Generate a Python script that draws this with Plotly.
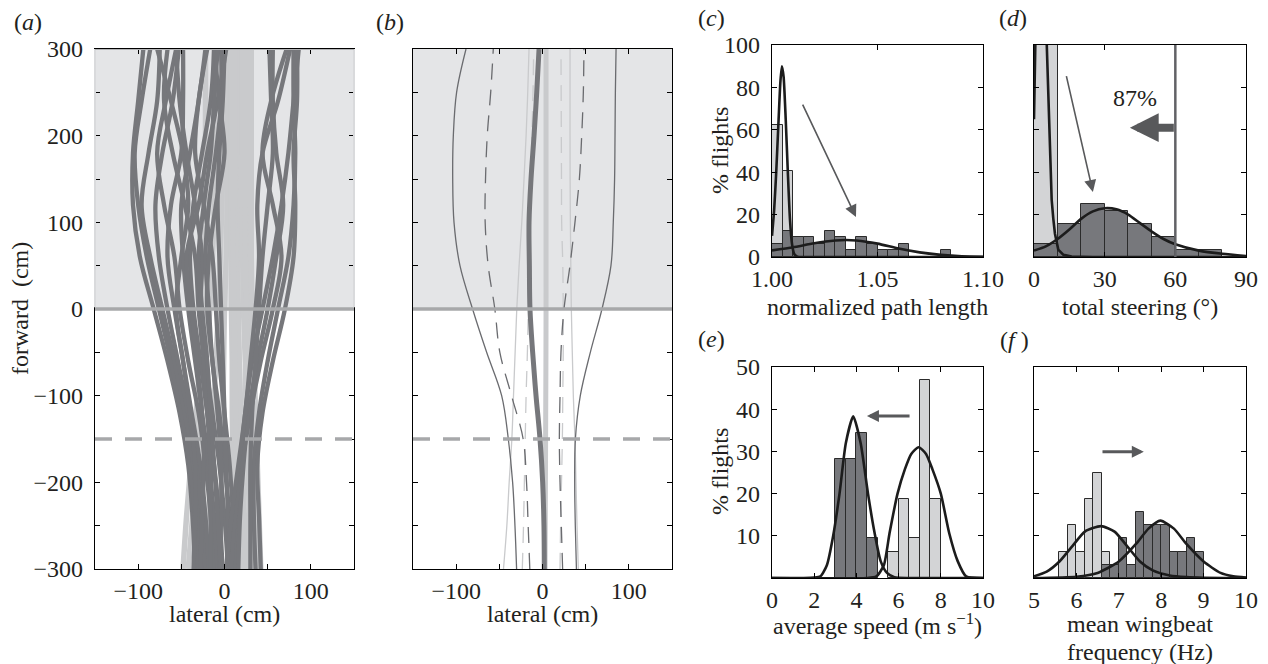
import plotly.graph_objects as go

W, H = 1268, 664
FONT = "Liberation Serif, Times New Roman, serif"
FS = 24
TXT = "#231f20"

# ---------------- data ----------------
# (a) individual trajectories: lateral position (cm) at these forward positions (cm)
a_forward = [-300, -240, -180, -120, -60, 0, 60, 120, 180, 240, 300]
a_dark = [
    [-34, -37, -42, -52, -66, -82, -98, -106, -106, -100, -94],
    [-30, -34, -40, -50, -62, -76, -90, -100, -104, -96, -86],
    [-26, -30, -36, -46, -58, -72, -86, -96, -88, -78, -75],
    [-22, -26, -32, -42, -54, -66, -76, -80, -72, -60, -53],
    [-18, -22, -28, -38, -48, -58, -66, -62, -50, -48, -48],
    [-12, -16, -22, -30, -42, -52, -58, -70, -78, -68, -56],
    [-36, -34, -34, -40, -48, -56, -50, -42, -48, -62, -78],
    [-8, -12, -18, -26, -34, -42, -48, -50, -40, -30, -22],
    [-2, -6, -12, -20, -28, -36, -40, -36, -26, -16, -12],
    [4, 0, -6, -14, -22, -28, -26, -34, -44, -52, -56],
    [10, 6, 0, -6, -14, -18, -22, -18, -10, -4, -4],
    [-28, -26, -24, -26, -32, -38, -44, -30, -20, -8, 2],
    [14, 10, 6, 0, -6, -10, -14, -24, -34, -30, -20],
    [6, 4, 2, 0, -2, -4, -6, -8, -6, -2, 0],
    [-16, -16, -16, -20, -24, -30, -34, -46, -60, -70, -66],
    [12, 14, 18, 24, 32, 44, 56, 66, 74, 80, 86],
    [16, 18, 22, 28, 38, 50, 60, 68, 60, 56, 56],
    [36, 34, 34, 40, 50, 62, 74, 80, 82, 80, 80],
    [42, 40, 38, 44, 56, 70, 80, 82, 80, 84, 84],
    [8, 12, 20, 30, 42, 56, 66, 56, 44, 54, 72],
    [2, 8, 16, 24, 30, 36, 40, 38, 44, 62, 76],
    [30, 30, 30, 32, 36, 40, 44, 50, 56, 54, 52],
    [-6, -4, -4, -8, -14, -20, -18, -10, 0, -6, -12],
    [-4, -8, -12, -16, -20, -26, -30, -24, -16, -12, -8],
]
a_light = [
    [-48, -44, -39, -33, -28, -24, -22, -22, -22, -22, -22],
    [-42, -37, -32, -27, -22, -17, -14, -12, -12, -12, -12],
    [-20, -18, -16, -13, -10, -7, -5, -3, -2, -1, 0],
    [-5, -4, -3, -2, -1, 0, 2, 3, 4, 5, 5],
    [10, 10, 10, 9, 9, 8, 8, 8, 8, 8, 8],
    [20, 19, 18, 18, 17, 16, 15, 15, 15, 15, 15],
    [30, 29, 27, 25, 24, 22, 21, 20, 20, 20, 20],
    [38, 37, 35, 33, 32, 30, 29, 28, 28, 28, 28],
    [42, 40, 38, 36, 34, 32, 31, 31, 31, 31, 31],
    [25, 23, 21, 19, 17, 15, 13, 12, 12, 12, 12],
    [34, 32, 30, 28, 26, 25, 24, 24, 24, 24, 24],
    [16, 15, 14, 13, 12, 11, 10, 10, 10, 10, 10],
]

# (b) mean paths and envelopes
b_forward = [-300, -250, -200, -150, -100, -50, 0, 50, 100, 150, 200, 250, 300]
b_dark_mean = [2.1, 1.7, 0.2, -2.9, -7.5, -11.4, -14.5, -15.2, -15.6, -13.3, -9.8, -6.7, -4]
b_light_mean = [3, 3.2, 3.4, 3.6, 3.8, 4, 4.1, 4.1, 4.1, 4.1, 4.1, 4.1, 4.1]
b_dark_sd_left = [-30, -31.9, -34.6, -39.6, -47.3, -64.7, -81, -95.6, -102.5, -104, -103.3, -99.5, -88.6]
b_dark_sd_right = [39.3, 38, 37.3, 38.1, 43.8, 55.4, 68.9, 79.3, 82, 83.5, 84, 84.4, 85.2]
b_dark_se_left = [-14.7, -16.6, -18.5, -22.4, -35.9, -49.4, -55.2, -62.9, -66.4, -66, -64, -60, -57]
b_dark_se_right = [23.3, 21.8, 20.3, 19.5, 20.3, 21.4, 24.9, 31.8, 37.6, 42.7, 45.4, 47.3, 48]
b_light_sd_left = [-45.2, -41.3, -38.6, -35.5, -33.6, -31.7, -29.8, -27.1, -24, -21.4, -19, -17.1, -15.6]
b_light_sd_right = [41.5, 40, 38.8, 37.6, 35.7, 34.5, 33.4, 32.8, 32.3, 32, 31.9, 31.9, 31.9]
b_light_se_left = [-23.4, -22, -21, -20, -19, -17.5, -16.4, -15, -14, -13, -12.2, -11, -10.2]
b_light_se_right = [20.3, 21, 22, 23, 23.5, 24, 24, 23.5, 22.2, 22, 21.8, 21.6, 21.4]

# (c) normalized path length histograms (% flights)
c_bin = 0.005
c_light_left = [1.000, 1.005]
c_light_pct = [62.5, 40.6]
c_dark_left = [1.000, 1.005, 1.010, 1.015, 1.020, 1.025, 1.030, 1.035, 1.040, 1.045,
               1.050, 1.055, 1.060, 1.080]
c_dark_pct = [6.25, 12.5, 9.4, 9.4, 6.25, 12.5, 9.4, 3.1, 9.4, 6.25, 3.1, 3.1, 6.25, 3.1]
c_light_fit_x = [1.000, 1.001, 1.002, 1.003, 1.004, 1.0047, 1.0055, 1.0065, 1.0075, 1.0085,
                 1.0095, 1.0105, 1.012, 1.015, 1.10]
c_light_fit_y = [10, 22, 40, 62, 83, 90, 85, 65, 40, 18, 6, 1.5, 0.2, 0, 0]
c_dark_fit_x = [1.00, 1.01, 1.02, 1.03, 1.035, 1.04, 1.05, 1.06, 1.07, 1.08, 1.09, 1.10]
c_dark_fit_y = [3.1, 4.6, 6.5, 7.8, 8.0, 7.8, 6.3, 4.0, 2.2, 1.0, 0.3, 0.1]

# (d) total steering histograms
d_bin = 10
d_light_left = [0]
d_light_pct = [100]
d_dark_left = [0, 10, 20, 30, 40, 50, 60, 70]
d_dark_pct = [6.25, 15.6, 25, 21.9, 15.6, 9.4, 3.1, 3.1]
d_light_fit_x = [0, 0.3, 1, 2, 3, 4, 5, 5.4, 5.9, 6.4, 7.0, 7.5, 8.2, 8.9, 10.3, 12.5, 16, 25, 90]
d_light_fit_y = [65, 110, 160, 190, 180, 150, 115, 100, 78, 58, 40, 27, 18, 11, 3.5, 1, 0.2, 0, 0]
d_dark_fit_x = [0, 5, 10, 15, 20, 25, 30, 35, 40, 45, 50, 55, 60, 70, 80, 90]
d_dark_fit_y = [3, 5, 8.5, 13, 18, 21.5, 23, 22.5, 20, 16, 12, 8.5, 6, 3, 1.5, 0.5]
d_threshold = 60
d_threshold_label = "87%"

# (e) average speed histograms
e_bin = 0.5
e_dark_left = [3.0, 3.5, 4.0, 4.5]
e_dark_pct = [28.1, 28.1, 34.4, 9.4]
e_light_left = [5.5, 6.0, 6.5, 7.0, 7.5]
e_light_pct = [6.25, 18.75, 9.4, 46.9, 18.75]
e_dark_fit_x = [0, 1.5, 2.0, 2.3, 2.6, 2.9, 3.2, 3.5, 3.85, 4.2, 4.55, 4.85, 5.15, 5.45, 5.8, 6.5, 10]
e_dark_fit_y = [0, 0, 0.1, 0.4, 3, 10, 20, 32, 38.3, 32, 20, 11, 4, 1.2, 0.2, 0, 0]
e_light_fit_x = [0, 4.5, 4.95, 5.3, 5.57, 5.95, 6.3, 6.6, 6.95, 7.3, 7.6, 8.0, 8.4, 8.8, 9.2, 10]
e_light_fit_y = [0, 0, 0.4, 3, 10.6, 20, 25.8, 29.4, 31, 29.4, 25.8, 20, 10.6, 4, 0.4, 0]

# (f) mean wingbeat frequency histograms
f_bin = 0.2
f_light_left = [5.6, 5.8, 6.0, 6.2, 6.4, 6.6]
f_light_pct = [6.25, 12.5, 6.25, 18.75, 25, 6.25]
f_dark_left = [6.6, 6.8, 7.0, 7.2, 7.4, 7.6, 7.8, 8.0, 8.2, 8.4, 8.6, 8.8]
f_dark_pct = [3.1, 3.1, 9.4, 3.1, 15.6, 12.5, 12.5, 12.5, 6.25, 6.25, 9.4, 6.25]
f_light_fit_x = [5, 5.3, 5.6, 5.9, 6.2, 6.58, 6.9, 7.2, 7.5, 7.8, 8.2, 8.6, 9, 10]
f_light_fit_y = [0.4, 1.5, 3.9, 7.5, 11, 12.3, 11, 7.5, 3.9, 1.8, 0.6, 0.2, 0.05, 0]
f_dark_fit_x = [5, 6, 6.5, 7, 7.4, 7.7, 7.98, 8.3, 8.6, 9, 9.4, 9.7, 10]
f_dark_fit_y = [0, 0.3, 1.2, 3.9, 8, 11.7, 13.6, 11.7, 8, 3.9, 1.2, 0.4, 0.1]

# tick labels
traj_xticks = [-150, -100, -50, 0, 50, 100, 150]
traj_xtext = ["", "\u2212100", "", "0", "", "100", ""]
traj_yticks = [-300, -250, -200, -150, -100, -50, 0, 50, 100, 150, 200, 250, 300]
traj_ytext = ["\u2212300", "", "\u2212200", "", "\u2212100", "", "0", "", "100", "", "200", "", "300"]

# ---------------- style ----------------
DARK = "#76777b"
LIGHT = "#c9cacc"
SHADE = "#e4e5e7"
REFLINE = "#a7a8aa"
BAR_DARK = "#77787c"
BAR_LIGHT = "#d3d4d6"
FIT = "#1c1c1c"
ARROW = "#58595b"


def px(x):
    return x / W


def py(y):
    return 1 - y / H


domains = {
    "a": ([95, 354], [49, 569]),
    "b": ([413, 672], [49, 569]),
    "c": ([772, 983], [45, 257]),
    "d": ([1034, 1246], [45, 257]),
    "e": ([772, 983], [367, 578]),
    "f": ([1034, 1246], [367, 578]),
}


def dom(p):
    (x0, x1), (y0, y1) = domains[p]
    return [px(x0), px(x1)], [py(y1), py(y0)]


def axis(**kw):
    d = dict(showline=True, linecolor="black", linewidth=1.3, mirror="ticks",
             ticks="inside", ticklen=5, tickwidth=1, tickcolor="black",
             showgrid=False, zeroline=False, automargin=False,
             tickfont=dict(family=FONT, size=FS, color=TXT), fixedrange=True)
    d.update(kw)
    return d


fig = go.Figure()

# (a) trajectories
for xs in a_light:
    fig.add_trace(go.Scatter(x=xs, y=a_forward, mode="lines", line=dict(color=LIGHT, width=5.5, shape="spline"),
                             xaxis="x", yaxis="y", showlegend=False, hoverinfo="skip"))
for xs in a_dark:
    fig.add_trace(go.Scatter(x=xs, y=a_forward, mode="lines", line=dict(color=DARK, width=4.3, shape="spline"),
                             xaxis="x", yaxis="y", showlegend=False, hoverinfo="skip"))

# (b) summary paths
b_lines = [
    (b_light_sd_left, LIGHT, 1.3, "solid"), (b_light_sd_right, LIGHT, 1.3, "solid"),
    (b_light_se_left, LIGHT, 1.3, "16px,10px"), (b_light_se_right, LIGHT, 1.3, "16px,10px"),
    (b_dark_sd_left, "#6a6b6f", 1.3, "solid"), (b_dark_sd_right, "#6a6b6f", 1.3, "solid"),
    (b_dark_se_left, "#6a6b6f", 1.3, "16px,10px"), (b_dark_se_right, "#6a6b6f", 1.3, "16px,10px"),
    (b_light_mean, LIGHT, 5, "solid"), (b_dark_mean, DARK, 5, "solid"),
]
for xs, col, wd, dash in b_lines:
    fig.add_trace(go.Scatter(x=xs, y=b_forward, mode="lines",
                             line=dict(color=col, width=wd, dash=dash, shape="spline"),
                             xaxis="x2", yaxis="y2", showlegend=False, hoverinfo="skip"))


def bars(left, pct, w, color, ax):
    fig.add_trace(go.Bar(x=[l + w / 2 for l in left], y=pct, width=w,
                         marker=dict(color=color, line=dict(color="#2b2b2b", width=1)),
                         xaxis="x" + ax, yaxis="y" + ax, showlegend=False, hoverinfo="skip"))


def fit(xs, ys, ax):
    fig.add_trace(go.Scatter(x=xs, y=ys, mode="lines", line=dict(color=FIT, width=2.6, shape="spline", smoothing=0.6),
                             xaxis="x" + ax, yaxis="y" + ax, showlegend=False, hoverinfo="skip"))


bars(c_light_left, c_light_pct, c_bin, BAR_LIGHT, "3")
bars(c_dark_left, c_dark_pct, c_bin, BAR_DARK, "3")
fit(c_light_fit_x, c_light_fit_y, "3")
fit(c_dark_fit_x, c_dark_fit_y, "3")

bars(d_light_left, d_light_pct, d_bin, BAR_LIGHT, "4")
bars(d_dark_left, d_dark_pct, d_bin, BAR_DARK, "4")
fig.add_trace(go.Scatter(x=d_light_fit_x, y=d_light_fit_y, mode="lines", line=dict(color=FIT, width=2.6),
                         xaxis="x4", yaxis="y4", showlegend=False, hoverinfo="skip"))
fit(d_dark_fit_x, d_dark_fit_y, "4")

bars(e_dark_left, e_dark_pct, e_bin, BAR_DARK, "5")
bars(e_light_left, e_light_pct, e_bin, BAR_LIGHT, "5")
fit(e_dark_fit_x, e_dark_fit_y, "5")
fit(e_light_fit_x, e_light_fit_y, "5")

bars(f_light_left, f_light_pct, f_bin, BAR_LIGHT, "6")
bars(f_dark_left, f_dark_pct, f_bin, BAR_DARK, "6")
fit(f_light_fit_x, f_light_fit_y, "6")
fit(f_dark_fit_x, f_dark_fit_y, "6")

# ---------------- layout ----------------
layout = dict(width=W, height=H, margin=dict(l=0, r=0, t=0, b=0, autoexpand=False), paper_bgcolor="white",
              plot_bgcolor="white", barmode="overlay", bargap=0, showlegend=False,
              font=dict(family=FONT, size=FS, color=TXT))

xd, yd = dom("a")
layout["xaxis"] = axis(domain=xd, anchor="y", range=[-150, 150], tickvals=traj_xticks, ticktext=traj_xtext)
layout["yaxis"] = axis(domain=yd, anchor="x", range=[-300, 300], tickvals=traj_yticks, ticktext=traj_ytext,
                       ticklabelstandoff=6)
xd, yd = dom("b")
layout["xaxis2"] = axis(domain=xd, anchor="y2", range=[-150, 150], tickvals=traj_xticks, ticktext=traj_xtext)
layout["yaxis2"] = axis(domain=yd, anchor="x2", range=[-300, 300], tickvals=traj_yticks, showticklabels=False)
xd, yd = dom("c")
layout["xaxis3"] = axis(domain=xd, anchor="y3", range=[1.0, 1.1], tickvals=[1.0, 1.05, 1.1],
                        ticktext=["1.00", "1.05", "1.10"])
layout["yaxis3"] = axis(domain=yd, anchor="x3", range=[0, 100], tickvals=[0, 20, 40, 60, 80, 100],
                        ticklabelstandoff=6)
xd, yd = dom("d")
layout["xaxis4"] = axis(domain=xd, anchor="y4", range=[0, 90], tickvals=[0, 30, 60, 90])
layout["yaxis4"] = axis(domain=yd, anchor="x4", range=[0, 100], tickvals=[20, 40, 60, 80], showticklabels=False)
xd, yd = dom("e")
layout["xaxis5"] = axis(domain=xd, anchor="y5", range=[0, 10], tickvals=[0, 2, 4, 6, 8, 10])
layout["yaxis5"] = axis(domain=yd, anchor="x5", range=[0, 50], tickvals=[10, 20, 30, 40, 50],
                        ticklabelstandoff=6)
xd, yd = dom("f")
layout["xaxis6"] = axis(domain=xd, anchor="y6", range=[5, 10], tickvals=[5, 6, 7, 8, 9, 10])
layout["yaxis6"] = axis(domain=yd, anchor="x6", range=[0, 50], tickvals=[10, 20, 30, 40], showticklabels=False)

shapes = []
for ax in ["", "2"]:
    shapes.append(dict(type="rect", xref=f"x{ax} domain", yref=f"y{ax}", x0=0, x1=1, y0=0, y1=300,
                       fillcolor=SHADE, line=dict(width=0), layer="below"))
    shapes.append(dict(type="line", xref=f"x{ax} domain", yref=f"y{ax}", x0=0, x1=1, y0=0, y1=0,
                       line=dict(color=REFLINE, width=3.5), layer="above"))
    shapes.append(dict(type="line", xref=f"x{ax} domain", yref=f"y{ax}", x0=0, x1=1, y0=-150, y1=-150,
                       line=dict(color=REFLINE, width=3.5, dash="17px,13px"), layer="above"))
# panel (a): shaded region covers the frame in its upper half
for xx in [0, 1]:
    shapes.append(dict(type="line", xref="x domain", yref="y", x0=xx, x1=xx, y0=2, y1=300,
                       line=dict(color="#d9dadc", width=2), layer="above"))
shapes.append(dict(type="line", xref="x domain", yref="y", x0=0, x1=1, y0=300, y1=300,
                   line=dict(color="#b3b4b6", width=2), layer="above"))
# panel (d) threshold
shapes.append(dict(type="line", xref="x4", yref="y4 domain", x0=d_threshold, x1=d_threshold, y0=0, y1=1,
                   line=dict(color="#616266", width=2.5), layer="above"))
layout["shapes"] = shapes


def txt(x, y, s, size=FS, angle=0, xanchor="center"):
    return dict(text=s, x=px(x), y=py(y), xref="paper", yref="paper", showarrow=False,
                textangle=angle, xanchor=xanchor, yanchor="middle",
                font=dict(family=FONT, size=size, color=TXT))


ann = [
    txt(28, 22, "(<i>a</i>)"), txt(390, 22, "(<i>b</i>)"),
    txt(712, 18, "(<i>c</i>)"), txt(1013, 18, "(<i>d</i>)"),
    txt(712, 339, "(<i>e</i>)"), txt(1014, 340, "(<i>f</i> )"),
    txt(20, 309, "forward  (cm)", angle=-90),
    txt(224, 614, "lateral (cm)"), txt(542, 614, "lateral (cm)"),
    txt(720, 151, "% flights", angle=-90), txt(720, 472, "% flights", angle=-90),
    txt(877, 307, "normalized path length"), txt(1140, 307, "total steering (\u00b0)"),
    txt(877, 624, "average speed (m s<sup>\u22121</sup>)"),
    txt(1140, 624, "mean wingbeat"), txt(1140, 652, "frequency (Hz)"),
]
# panel (d) 87% label
ann.append(dict(text=d_threshold_label, x=43, y=75, xref="x4", yref="y4", showarrow=False,
                font=dict(family=FONT, size=FS, color=TXT)))


def arrow(x, y, ax_, ay_, axn, width, size):
    return dict(x=x, y=y, ax=ax_, ay=ay_, xref="x" + axn, yref="y" + axn, axref="x" + axn, ayref="y" + axn,
                text="", showarrow=True, arrowhead=2, arrowsize=size, arrowwidth=width, arrowcolor=ARROW,
                standoff=0, startstandoff=0)


ann.append(arrow(1.0398, 18.9, 1.0142, 72.6, "3", 1.6, 1.5))
ann.append(arrow(25, 30.7, 13.6, 86, "4", 1.6, 1.5))
ann.append(arrow(40.7, 61, 60, 61, "4", 8, 0.72))
ann.append(arrow(4.5, 38.4, 6.59, 38.4, "5", 3, 0.8))
ann.append(arrow(7.59, 29.9, 6.58, 29.9, "6", 3, 0.8))
layout["annotations"] = ann

fig.update_layout(**layout)
fig.write_html("out.html")
